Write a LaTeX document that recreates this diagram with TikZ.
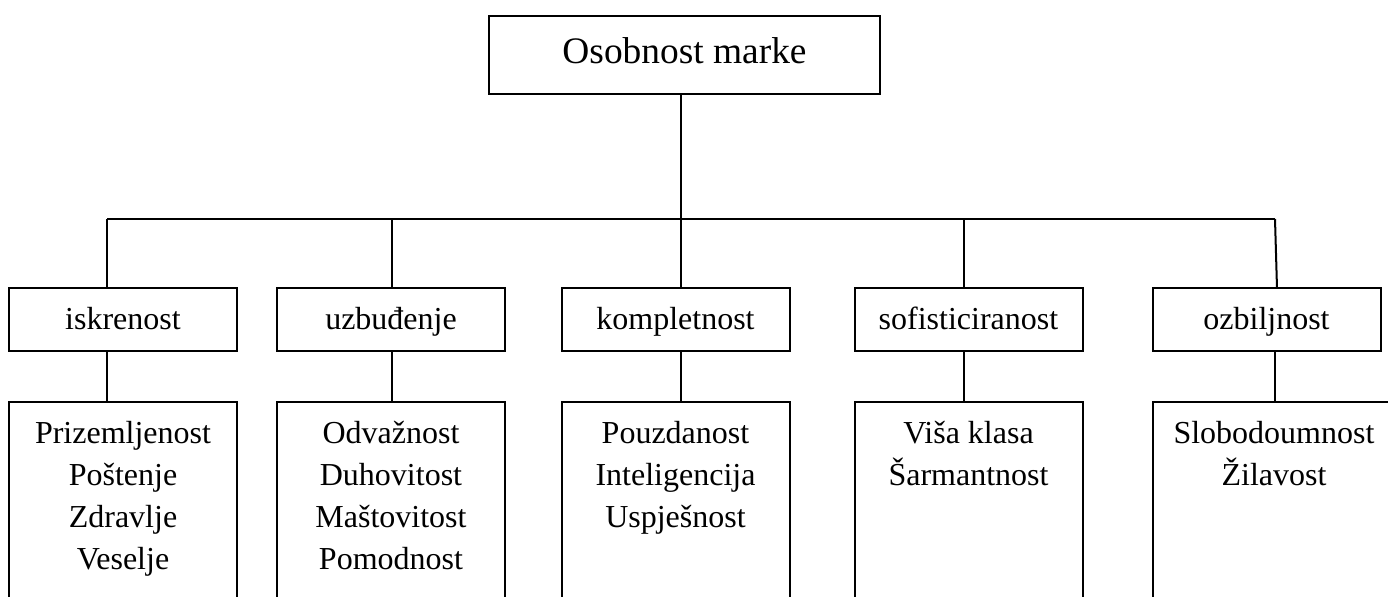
\documentclass[tikz,border=0pt]{standalone}
\usepackage{fontspec}
\setmainfont{Liberation Serif}
\usetikzlibrary{positioning}
\tikzstyle{naslov} = [rectangle, draw=black, line width=1pt, outer sep=0pt, minimum width=195.5pt, inner xsep=0pt, inner ysep=0pt, text height=23.5pt, text depth=15.5pt, font=\fontsize{18.7pt}{22pt}\selectfont]
\tikzstyle{osobina} = [rectangle, draw=black, line width=1pt, outer sep=0pt, minimum width=114pt, inner xsep=0pt, inner ysep=0pt, text height=20.5pt, text depth=11pt, font=\fontsize{16pt}{21pt}\selectfont]
\tikzstyle{popis} = [rectangle, draw=black, line width=1pt, outer sep=0pt, minimum width=114pt, inner xsep=0pt, inner ysep=0pt, text height=20.5pt, text depth=130pt, font=\fontsize{16pt}{21pt}\selectfont, below=25.5pt of #1]
\tikzstyle{veza} = [line width=1pt]
\newcommand{\stupac}[1]{\begin{tabular}[t]{@{}c@{}}#1\end{tabular}}

\begin{document}
\begin{tikzpicture}[x=0.5pt, y=-0.5pt]
\useasboundingbox (0,0) rectangle (1388,596);
\clip (0,0) rectangle (1388,596);
\fill[white] (0,0) rectangle (1388,596);
\node (marke) [naslov] at (684.5,55) {Osobnost marke};
\node (iskrenost) [osobina] at (123,319.5) {iskrenost};
\node (uzbudjenje) [osobina, right=20pt of iskrenost] {uzbuđenje};
\node (kompletnost) [osobina, right=28.25pt of uzbudjenje] {kompletnost};
\node (sofisticiranost) [osobina, right=32.5pt of kompletnost] {sofisticiranost};
\node (ozbiljnost) [osobina, right=35pt of sofisticiranost] {ozbiljnost};
\node (iskrenostpopis) [popis=iskrenost] {\stupac{Prizemljenost\\Poštenje\\Zdravlje\\Veselje}};
\node (uzbudjenjepopis) [popis=uzbudjenje] {\stupac{Odvažnost\\Duhovitost\\Maštovitost\\Pomodnost}};
\node (kompletnostpopis) [popis=kompletnost] {\stupac{Pouzdanost\\Inteligencija\\Uspješnost}};
\node (sofisticiranostpopis) [popis=sofisticiranost] {\stupac{Viša klasa\\Šarmantnost}};
\node (ozbiljnostpopis) [popis=ozbiljnost, minimum width=121.5pt, xshift=3.75pt] {\stupac{Slobodoumnost\\Žilavost}};
% grananje
\coordinate (g1) at (107,219);
\coordinate (g2) at (392,219);
\coordinate (g3) at (681,219);
\coordinate (g4) at (964,219);
\coordinate (g5) at (1275,219);
\draw [veza] (marke.south -| g3) -- (g3);
\draw [veza] (g1) -- (g5);
\draw [veza] (g1) -- (g1 |- iskrenost.north);
\draw [veza] (g2) -- (g2 |- uzbudjenje.north);
\draw [veza] (g3) -- (g3 |- kompletnost.north);
\draw [veza] (g4) -- (g4 |- sofisticiranost.north);
\draw [veza] (g5) -- ([xshift=1pt]g5 |- ozbiljnost.north);
\draw [veza] (iskrenost.south -| g1) -- (iskrenostpopis.north -| g1);
\draw [veza] (uzbudjenje.south -| g2) -- (uzbudjenjepopis.north -| g2);
\draw [veza] (kompletnost.south -| g3) -- (kompletnostpopis.north -| g3);
\draw [veza] (sofisticiranost.south -| g4) -- (sofisticiranostpopis.north -| g4);
\draw [veza] (ozbiljnost.south -| g5) -- (ozbiljnostpopis.north -| g5);
\end{tikzpicture}
\end{document}
